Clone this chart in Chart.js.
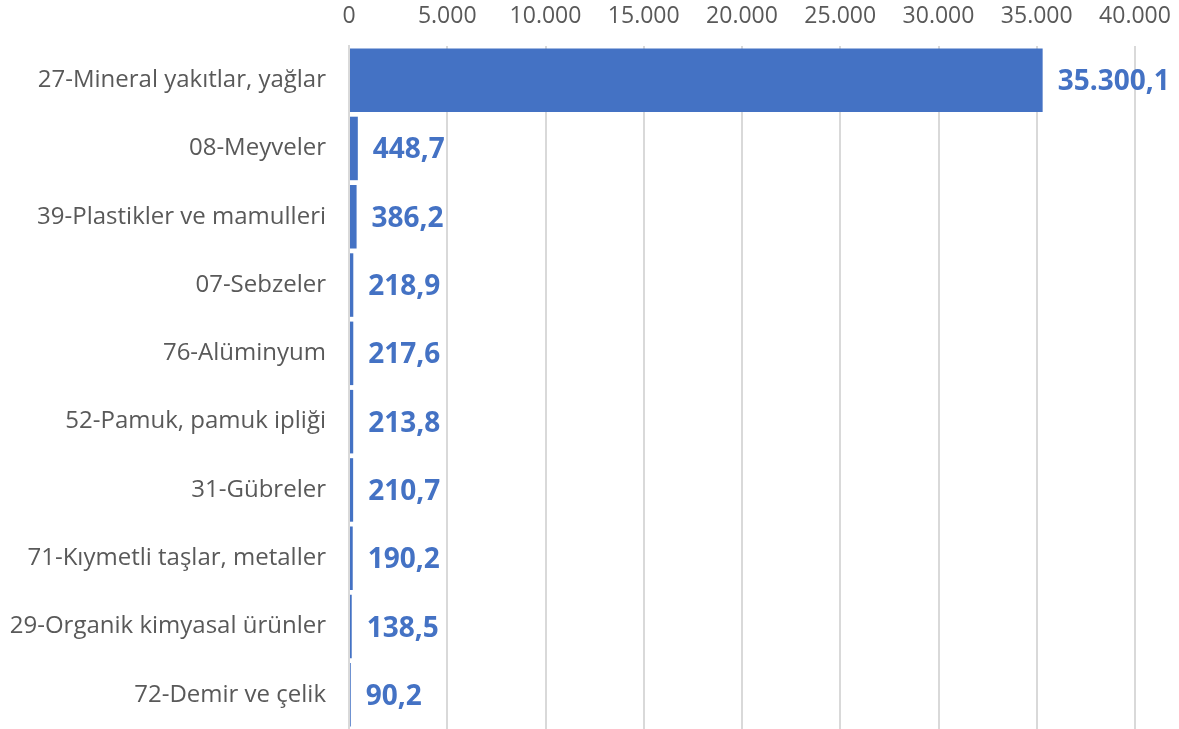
<!DOCTYPE html>
<html>
<head>
<meta charset="utf-8">
<script src="https://cdn.jsdelivr.net/npm/chart.js@4/dist/chart.umd.min.js"></script>
<style>
  html, body { margin: 0; padding: 0; background: #fff; overflow: hidden; }
  canvas { display: block; }
</style>
</head>
<body>
<canvas id="chart" width="1179" height="729"></canvas>
<script>
const categories = [
    '27-Mineral yakıtlar, yağlar',
    '08-Meyveler',
    '39-Plastikler ve mamulleri',
    '07-Sebzeler',
    '76-Alüminyum',
    '52-Pamuk, pamuk ipliği',
    '31-Gübreler',
    '71-Kıymetli taşlar, metaller',
    '29-Organik kimyasal ürünler',
    '72-Demir ve çelik'
];
const values = [35300.1, 448.7, 386.2, 218.9, 217.6, 213.8, 210.7, 190.2, 138.5, 90.2];
const axisMax = 40000;
const axisStep = 5000;

// Turkish number style: 35.300,1
function trFormat(v, decimals) {
    const parts = v.toFixed(decimals).split('.');
    const intPart = parts[0].replace(/\B(?=(\d{3})+(?!\d))/g, '.');
    return parts.length > 1 ? intPart + ',' + parts[1] : intPart;
}

const valueLabelPlugin = {
    id: 'valueLabelPlugin',
    afterDatasetsDraw(chart) {
        const {ctx} = chart;
        const meta = chart.getDatasetMeta(0);
        ctx.save();
        ctx.fillStyle = '#4472C4';
        ctx.font = 'bold 28px "Open Sans", sans-serif';
        ctx.textAlign = 'left';
        ctx.textBaseline = 'middle';
        meta.data.forEach((bar, i) => {
            ctx.fillText(trFormat(values[i], 1), bar.x + 15, bar.y + 2);
        });
        ctx.restore();
    }
};

const ctx = document.getElementById('chart').getContext('2d');
new Chart(ctx, {
    type: 'bar',
    data: {
        labels: categories,
        datasets: [{
            data: values,
            backgroundColor: '#4472C4',
            barPercentage: 0.93,
            categoryPercentage: 1.0
        }]
    },
    options: {
        indexAxis: 'y',
        responsive: false,
        animation: false,
        layout: {
            padding: {left: 0, right: 44, top: 0, bottom: 0}
        },
        plugins: {
            legend: {display: false},
            tooltip: {enabled: false}
        },
        scales: {
            x: {
                position: 'top',
                min: 0,
                max: axisMax,
                ticks: {
                    stepSize: axisStep,
                    color: '#595959',
                    font: {family: '"Open Sans", sans-serif', size: 23},
                    padding: 16,
                    callback: v => trFormat(v, 0)
                },
                grid: {
                    color: '#D9D9D9',
                    lineWidth: 2,
                    drawTicks: false
                },
                border: {display: false},
                afterFit(scale) {
                    scale.height = 46;
                    scale.paddingLeft = 0;
                    scale.paddingRight = 0;
                }
            },
            y: {
                ticks: {
                    color: '#595959',
                    font: {family: '"Open Sans", sans-serif', size: 24},
                    padding: 23
                },
                grid: {display: false, drawTicks: false},
                border: {display: true, color: '#D9D9D9', width: 2},
                afterFit(scale) {
                    scale.width = 349;
                    scale.paddingTop = 0;
                    scale.paddingBottom = 0;
                }
            }
        }
    },
    plugins: [valueLabelPlugin]
});
</script>
</body>
</html>
